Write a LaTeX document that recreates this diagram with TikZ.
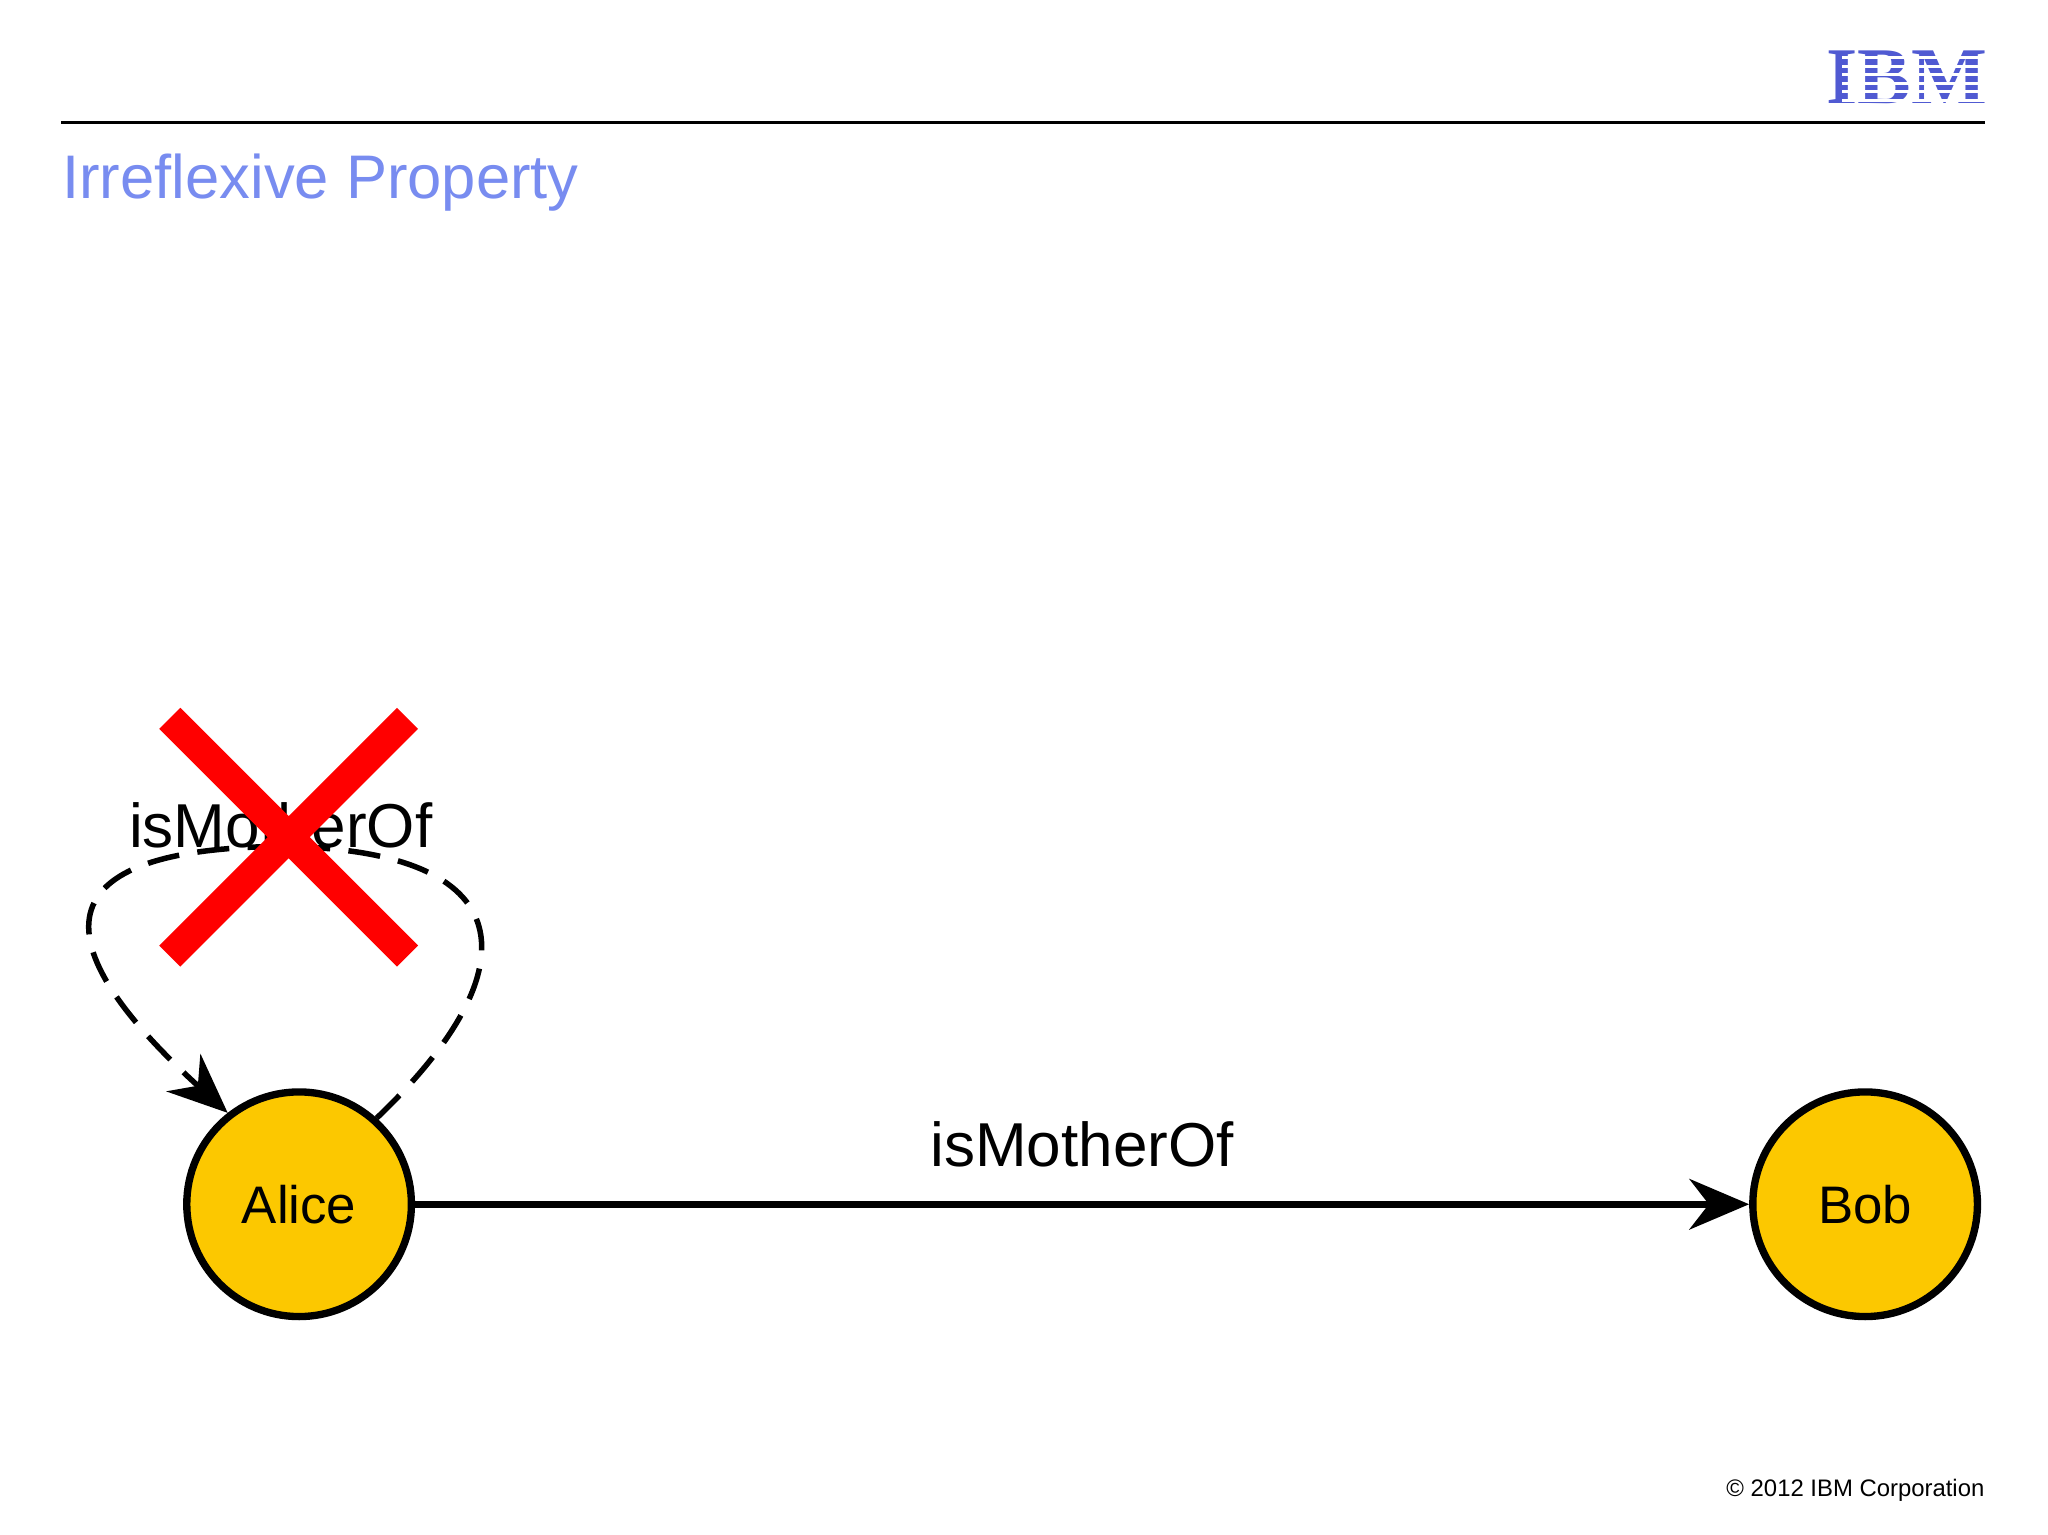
\documentclass[tikz,border=0pt]{standalone}
\usepackage{fontspec}
\setmainfont{Liberation Sans}
\usetikzlibrary{arrows.meta}
\definecolor{ttl}{RGB}{120,140,240}
\definecolor{ibm}{RGB}{80,90,210}
\definecolor{gold}{RGB}{252,200,0}
\begin{document}
\begin{tikzpicture}[x=0.01cm,y=-0.01cm,
  vert/.style={circle,draw,line width=1.6pt,fill=gold,minimum size=172*0.01cm,inner sep=0pt,font=\fontsize{11.5}{14}\selectfont},
  lbl/.style={font=\fontsize{13.5}{16}\selectfont},
  tip/.style={-{Stealth[length=13pt,width=11pt]}}]
\useasboundingbox (0,0) rectangle (1568,1175);
\fill[white] (0,0) rectangle (1568,1175);
\draw[line width=0.7pt] (47,94) coordinate (l1) -- (1520,94) coordinate (l2);
\node[anchor=base west,inner sep=0pt,text=ttl,font=\fontsize{13.4}{16}\selectfont] (title) at (47,152) {Irreflexive Property};
\node[anchor=base east,inner sep=0pt,text=ibm,font=\fontsize{17.5}{20}\bfseries\fontspec{Liberation Serif}] (logo) at (1522,79) {IBM};
\foreach \yy in {43,49.5,56,62.5,69,75.5} \fill[white] (1410,\yy) rectangle (1530,\yy+2.5);
\node[anchor=base east,inner sep=0pt,font=\fontsize{5.2}{6}\selectfont] (copy) at (1520,1146) {© 2012 IBM Corporation};
\node[vert] (alice) at (229,922) {Alice};
\node[vert] (bob) at (1428,922) {Bob};
\draw[tip,line width=1.5pt] (alice) -- node[lbl,above=4pt] (l) {isMotherOf} (bob);
\draw[tip,line width=1.2pt,dash pattern=on 7pt off 4pt] (alice.48) .. controls (410,740) and (400,650) .. (215,648) coordinate (top) .. controls (20,650) and (40,730) .. (alice.128);
\node[lbl] (sl) at (215,632) {isMotherOf};
\draw[red,line width=6.5pt] (130,550) -- (312,732) (312,550) -- (130,732);
\end{tikzpicture}
\end{document}
